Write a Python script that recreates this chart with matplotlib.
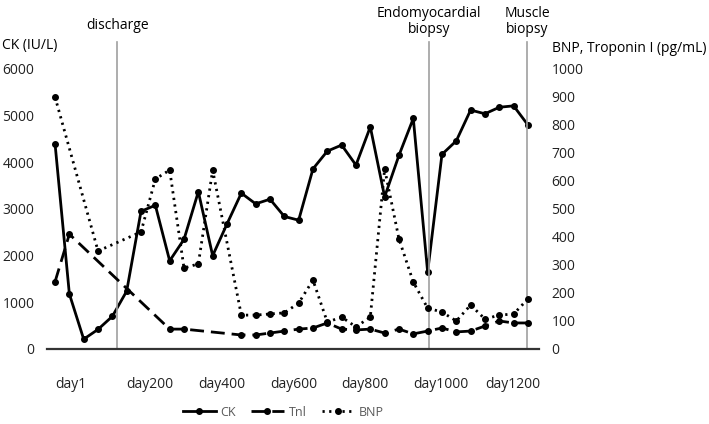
import matplotlib.pyplot as plt
import numpy as np

plt.rcParams['font.family'] = ['Open Sans', 'DejaVu Sans']

nan = np.nan
# one entry per sampling point (equally spaced categories)
ck = [4400, 1180, 210, 420, 700, 1240, 2950, 3080, 1890, 2350,
      3370, 2000, 2680, 3340, 3110, 3210, 2840, 2760, 3860, 4240,
      4370, 3940, 4760, 3260, 4150, 4940, 1650, 4170, 4460, 5120,
      5040, 5180, 5210, 4800]
tni = [240, 410, nan, nan, nan, nan, nan, nan, 71, 71,
       nan, nan, nan, 50, 50, 57, 64, 71, 75, 93,
       71, 68, 71, 57, 71, 54, 64, 75, 61, 64,
       82, 100, 93, 93]
bnp = [900, nan, nan, 350, nan, nan, 418, 607, 639, 289,
       304, 639, nan, 121, 121, 125, 129, 164, 246, 96,
       114, 79, 114, 643, 393, 239, 146, 132, 100, 157,
       107, 121, 125, 179]

day_pos = [0, 5, 10, 15, 20, 25, 30]
day_labels = ['day1', 'day200', 'day400', 'day600', 'day800', 'day1000', 'day1200']

event_pos = [4.35, 26.1, 32.95]
event_labels = ['discharge', 'Endomyocardial\nbiopsy', 'Muscle\nbiopsy']

x = np.arange(len(ck))

fig = plt.figure(figsize=(7.09, 4.24), dpi=100)
ax = fig.add_axes([0.0663, 0.1769, 0.6939, 0.6604])
ax2 = ax.twinx()

l1, = ax.plot(x, ck, color='black', lw=2, marker='o', ms=4, label='CK')

tni = np.array(tni)
m = ~np.isnan(tni)
l2, = ax2.plot(x[m], tni[m], color='black', lw=2, ls=(0, (5, 2.5)),
               marker='o', ms=4, label='TnI')
bnp = np.array(bnp)
m = ~np.isnan(bnp)
l3, = ax2.plot(x[m], bnp[m], color='black', lw=2, ls=(0, (0.8, 1.6)),
               marker='o', ms=4, label='BNP')

ax.set_xlim(-0.56, 33.77)
ax.set_ylim(0, 6000)
ax2.set_ylim(0, 1000)
ax.set_yticks(range(0, 6001, 1000))
ax2.set_yticks(range(0, 1001, 100))
ax.set_xticks(day_pos)
ax.set_xticklabels(day_labels, ha='left')

for a in (ax, ax2):
    for s in a.spines.values():
        s.set_visible(False)
    a.tick_params(length=0, labelsize=10, colors='#222222')
ax.spines['bottom'].set_visible(True)
ax.spines['bottom'].set_color('#333333')
ax.spines['bottom'].set_linewidth(1.6)
ax.tick_params(axis='x', pad=20)
ax.tick_params(axis='y', pad=9)
ax2.tick_params(axis='y', pad=9)

for p, lab in zip(event_pos, event_labels):
    ax.axvline(p, ymin=0, ymax=1.096, clip_on=False, color='#a0a0a0', lw=1.2)
    ax.text(p, 1.17 if '\n' in lab else 1.157, lab, transform=ax.get_xaxis_transform(),
            ha='center', va='center', fontsize=10, linespacing=1.15)

fig.text(2 / 709, 1 - 46 / 424, 'CK (IU/L)', ha='left', va='center', fontsize=10)
fig.text(552 / 709, 1 - 49 / 424, 'BNP, Troponin I (pg/mL)', ha='left', va='center', fontsize=10)

leg = fig.legend(handles=[l1, l2, l3], labels=['CK', 'Tnl', 'BNP'], ncol=3,
                 loc='center', bbox_to_anchor=(0.40, 0.028), frameon=False,
                 fontsize=9, handlelength=2.6, columnspacing=1.2, handletextpad=0.4)
for t in leg.get_texts():
    t.set_color('#595959')

fig.savefig('out.png', dpi=100)
